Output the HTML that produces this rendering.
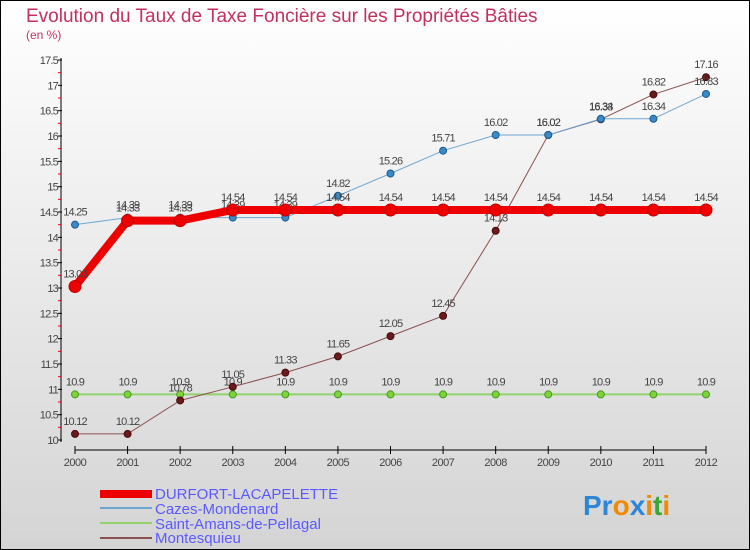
<!DOCTYPE html>
<html><head><meta charset="utf-8"><style>
body{margin:0}
#c{width:750px;height:550px;position:relative;overflow:hidden;box-sizing:border-box;border:1px solid #000;background:linear-gradient(#ffffff,#d4d4d4);font-family:"Liberation Sans",sans-serif}
</style></head><body>
<div id="c">
<svg id="s" width="750" height="550" style="position:absolute;left:-1px;top:-1px">
<text x="26" y="22" font-size="19" fill="#c4305e">Evolution du Taux de Taxe Foncière sur les Propriétés Bâties</text>
<text x="26" y="39" font-size="12" fill="#c4305e">(en %)</text>
<g id="axes"></g><g id="series"></g>
<g>
<rect x="100" y="490" width="52" height="8" fill="#ee0000"/>
<text x="155" y="499" font-size="15" fill="#5a5aff">DURFORT-LACAPELETTE</text>
<line x1="100" y1="508" x2="152" y2="508" stroke="#6fa6d0" stroke-width="2"/>
<text x="155" y="514" font-size="15" fill="#5a5aff">Cazes-Mondenard</text>
<line x1="100" y1="523" x2="152" y2="523" stroke="#8fd36a" stroke-width="2"/>
<text x="155" y="529" font-size="15" fill="#5a5aff">Saint-Amans-de-Pellagal</text>
<line x1="100" y1="538" x2="152" y2="538" stroke="#8a5050" stroke-width="2"/>
<text x="155" y="543" font-size="15" fill="#5a5aff">Montesquieu</text>
</g>
<text x="583" y="515" font-size="28" font-weight="bold"><tspan fill="#2d86d6">Pr</tspan><tspan fill="#f08a00">o</tspan><tspan fill="#2d86d6">x</tspan><tspan fill="#f08a00">i</tspan><tspan fill="#39a832">t</tspan><tspan fill="#f08a00">i</tspan></text>
</svg>
</div>
<script>
const years=[2000,2001,2002,2003,2004,2005,2006,2007,2008,2009,2010,2011,2012];
const yTicks=[10,10.5,11,11.5,12,12.5,13,13.5,14,14.5,15,15.5,16,16.5,17,17.5];
const durfort=[13.03,14.33,14.33,14.54,14.54,14.54,14.54,14.54,14.54,14.54,14.54,14.54,14.54];
const cazes=[14.25,14.39,14.39,14.39,14.39,14.82,15.26,15.71,16.02,16.02,16.34,16.34,16.83];
const saintAmans=[10.9,10.9,10.9,10.9,10.9,10.9,10.9,10.9,10.9,10.9,10.9,10.9,10.9];
const montesquieu=[10.12,10.12,10.78,11.05,11.33,11.65,12.05,12.45,14.13,16.02,16.33,16.82,17.16];
const NS="http://www.w3.org/2000/svg";
const X=i=>75+i*(706-75)/12;
const Y=v=>440-(v-10)*(380/7.5);
function mk(tag,attrs,parent){const e=document.createElementNS(NS,tag);for(const k in attrs)e.setAttribute(k,attrs[k]);parent.appendChild(e);return e;}
const ax=document.getElementById('axes');
let a=mk('line',{x1:61,y1:58,x2:61,y2:442,stroke:'#000'},ax);


a=mk('line',{x1:75,y1:450,x2:706,y2:450,stroke:'#000'},ax);


yTicks.forEach(v=>{
 mk('line',{x1:58,y1:Y(v),x2:62,y2:Y(v),stroke:'#000'},ax);
 if(v<17.5)mk('line',{x1:58,y1:Y(v+0.25),x2:61,y2:Y(v+0.25),stroke:'#e00'},ax);
 const t=mk('text',{x:58,y:Y(v)+4,'font-size':11,fill:'#444','text-anchor':'end','letter-spacing':'-0.8'},ax);
 t.textContent=String(v);
 
 
});
years.forEach((y,i)=>{
 mk('line',{x1:X(i),y1:446,x2:X(i),y2:454,stroke:'#000'},ax);
 const t=mk('text',{x:X(i),y:466,'font-size':11,fill:'#444','text-anchor':'middle','letter-spacing':'-0.5'},ax);
 t.textContent=y;
 
 
});
const sg=document.getElementById('series');
function draw(data,name,color,w,r,dot,dotStroke){
 const g=mk('g',{},sg);
 
 
 mk('polyline',{points:data.map((v,i)=>X(i)+','+Y(v)).join(' '),fill:'none',stroke:color,'stroke-width':w},g);
 data.forEach((v,i)=>{
  const c=mk('circle',{cx:X(i),cy:Y(v),r:r,fill:dot,stroke:dotStroke,'stroke-width':1},g);
  
  
  const t=mk('text',{x:X(i),y:Y(v)-9,'font-size':11,fill:'#444','text-anchor':'middle','letter-spacing':'-0.8'},g);
  t.textContent=String(v);
  
  
 });
}
draw(saintAmans,'saint-amans','#8fd36a',2,3.5,'#7ad43a','#4a9a20');
draw(montesquieu,'montesquieu','#8a5050',1,3.5,'#6a1a1a','#4a0a0a');
draw(cazes,'cazes','#6fa6d0',1,3.5,'#3a8ac8','#1a5a90');
draw(durfort,'durfort','#ee0000',8,6,'#ee0000','#c00000');
</script>
</body></html>
